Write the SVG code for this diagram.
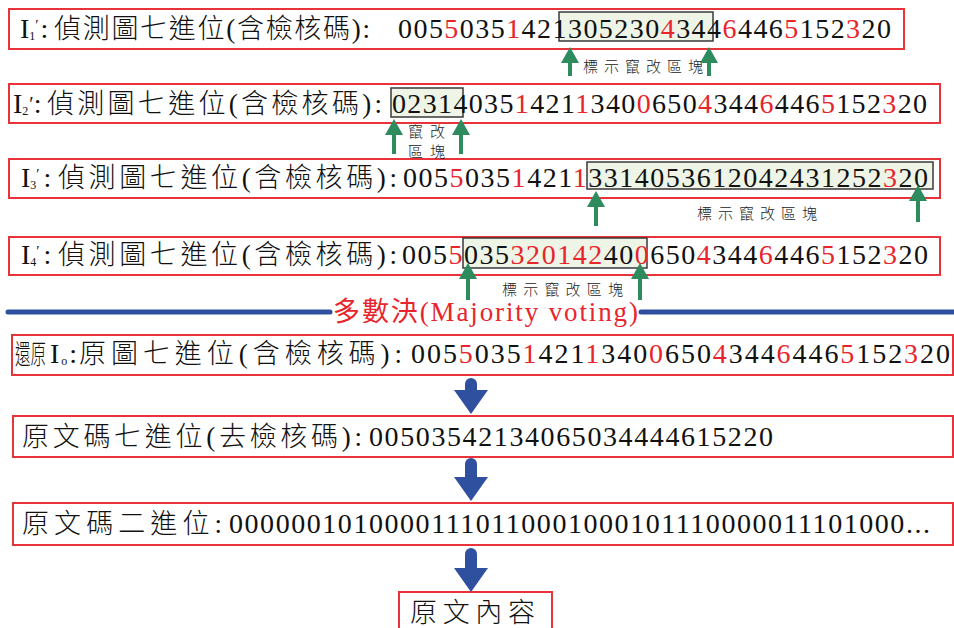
<svg xmlns="http://www.w3.org/2000/svg" xmlns:xlink="http://www.w3.org/1999/xlink" width="954" height="628" viewBox="0 0 954 628">
<style>
.box{fill:#fff;stroke:#e8333a;stroke-width:2}
.hl{fill:#eef4e6;stroke:#3a3a3a;stroke-width:1.5}
.t{font-family:"Liberation Serif","Noto Sans CJK TC",serif;font-size:28px;fill:#111}
.cjk{font-family:"Liberation Serif","Noto Sans CJK TC",serif;font-size:27px;font-weight:300;fill:#111}
.r{fill:#e8242c}
.note{font-family:"Noto Sans CJK TC",sans-serif;font-size:15px;font-weight:300;fill:#222}
.gl{stroke:#2e8b5e;stroke-width:4}
.gh{fill:#2e8b5e}
.bl{stroke:#2f4f9f;stroke-width:12;stroke-linecap:round}
.bh{fill:#2f4f9f}
.div{stroke:#2f4f9f;stroke-width:5;stroke-linecap:round}
</style>
<defs>
<polygon id="ghead" points="0,0 -9,16 9,16"/>
<polygon id="bhead" points="0,0 -17,-24 17,-24"/>
</defs>

<g id="row1">
<rect class="box" x="9" y="9" width="895" height="40"/>
<rect class="hl" x="559" y="12" width="154" height="29"/>
<text class="t" x="20" y="38">I<tspan font-size="12" dy="2">1</tspan><tspan font-size="15" dy="-10">′</tspan><tspan dx="2" dy="8">:</tspan></text>
<text class="cjk" x="54" y="38" textLength="316">偵測圖七進位(含檢核碼):</text>
<text class="t" x="398" y="38" textLength="493">005<tspan class="r">5</tspan>035<tspan class="r">1</tspan>421305230<tspan class="r">4</tspan>344<tspan class="r">6</tspan>446<tspan class="r">5</tspan>152<tspan class="r">3</tspan>20</text>
</g>

<g id="row2">
<rect class="box" x="9" y="84" width="931" height="39"/>
<rect class="hl" x="391" y="88" width="72" height="29"/>
<text class="t" x="13" y="113">I<tspan font-size="12" dy="2">2</tspan><tspan font-size="20" dx="1" dy="-4">′</tspan><tspan dy="2">:</tspan></text>
<text class="cjk" x="47" y="113" textLength="335">偵測圖七進位(含檢核碼):</text>
<text class="t" x="392" y="113" textLength="535">02314035<tspan class="r">1</tspan>421<tspan class="r">1</tspan>340<tspan class="r">0</tspan>650<tspan class="r">4</tspan>344<tspan class="r">6</tspan>446<tspan class="r">5</tspan>152<tspan class="r">3</tspan>20</text>
</g>

<g id="row3">
<rect class="box" x="9" y="159" width="931" height="39"/>
<rect class="hl" x="587" y="162" width="346" height="27"/>
<text class="t" x="21" y="187">I<tspan font-size="12" dy="2">3</tspan><tspan font-size="15" dy="-10">′</tspan><tspan dx="4" dy="8">:</tspan></text>
<text class="cjk" x="58" y="187" textLength="339">偵測圖七進位(含檢核碼):</text>
<text class="t" x="403" y="187" textLength="525">005<tspan class="r">5</tspan>035<tspan class="r">1</tspan>421<tspan class="r">1</tspan>3314053612042431252<tspan class="r">3</tspan>20</text>
</g>

<g id="row4">
<rect class="box" x="9" y="237" width="931" height="38"/>
<rect class="hl" x="463" y="238" width="184" height="30"/>
<text class="t" x="21" y="264">I<tspan font-size="12" dy="2">4</tspan><tspan font-size="15" dy="-10">′</tspan><tspan dx="4" dy="8">:</tspan></text>
<text class="cjk" x="58" y="264" textLength="339">偵測圖七進位(含檢核碼):</text>
<text class="t" x="402" y="264" textLength="526">005<tspan class="r">5</tspan>035<tspan class="r">320142</tspan>40<tspan class="r">0</tspan>650<tspan class="r">4</tspan>344<tspan class="r">6</tspan>446<tspan class="r">5</tspan>152<tspan class="r">3</tspan>20</text>
</g>

<g id="notes">
<text class="note" x="583" y="72" textLength="120">標示竄改區塊</text>
<text class="note" x="408" y="137" textLength="37">竄改</text>
<text class="note" x="408" y="157" textLength="37">區塊</text>
<text class="note" x="697" y="219" textLength="120">標示竄改區塊</text>
<text class="note" x="502" y="295" textLength="121">標示竄改區塊</text>
</g>

<g id="majority">
<line class="div" x1="8" y1="312" x2="330" y2="312"/>
<line class="div" x1="641" y1="312" x2="956" y2="312"/>
<text class="cjk" x="333" y="321" textLength="305" style="fill:#e8242c;font-weight:400">多數決(Majority voting)</text>
</g>

<g id="restored">
<rect class="box" x="12" y="335" width="941" height="40"/>
<text class="cjk" x="15" y="364" textLength="31" lengthAdjust="spacingAndGlyphs" font-size="29">還原</text>
<text class="t" x="50" y="363">I<tspan font-size="12" dx="2" dy="2">o</tspan><tspan dx="2" dy="-2">:</tspan></text>
<text class="cjk" x="79" y="363" textLength="323">原圖七進位(含檢核碼):</text>
<text class="t" x="411" y="363" textLength="539">005<tspan class="r">5</tspan>035<tspan class="r">1</tspan>421<tspan class="r">1</tspan>340<tspan class="r">0</tspan>650<tspan class="r">4</tspan>344<tspan class="r">6</tspan>446<tspan class="r">5</tspan>152<tspan class="r">3</tspan>20</text>
</g>

<g id="base7">
<rect class="box" x="13" y="416" width="940" height="41"/>
<text class="cjk" x="22" y="446" textLength="340">原文碼七進位(去檢核碼):</text>
<text class="t" x="369" y="446" textLength="404">00503542134065034444615220</text>
</g>

<g id="base2">
<rect class="box" x="13" y="503" width="940" height="42"/>
<text class="cjk" x="22" y="533" textLength="200">原文碼二進位:</text>
<text class="t" x="229" y="533" textLength="701">00000010100001110110001000101110000011101000...</text>
</g>

<g id="content">
<rect class="box" x="399" y="592" width="153" height="46"/>
<text class="cjk" x="410" y="622" font-size="30" textLength="125">原文內容</text>
</g>

<g id="connectors">
<line class="gl" x1="570" y1="76" x2="570" y2="60"/><use xlink:href="#ghead" class="gh" x="570" y="47"/>
<line class="gl" x1="709" y1="76" x2="709" y2="60"/><use xlink:href="#ghead" class="gh" x="709" y="47"/>
<line class="gl" x1="394" y1="154" x2="394" y2="132"/><use xlink:href="#ghead" class="gh" x="394" y="119"/>
<line class="gl" x1="461" y1="154" x2="461" y2="132"/><use xlink:href="#ghead" class="gh" x="461" y="119"/>
<line class="gl" x1="596" y1="226" x2="596" y2="204"/><use xlink:href="#ghead" class="gh" x="596" y="191"/>
<line class="gl" x1="918" y1="222" x2="918" y2="198"/><use xlink:href="#ghead" class="gh" x="918" y="185"/>
<line class="gl" x1="468" y1="300" x2="468" y2="276"/><use xlink:href="#ghead" class="gh" x="468" y="263"/>
<line class="gl" x1="640" y1="300" x2="640" y2="276"/><use xlink:href="#ghead" class="gh" x="640" y="263"/>
<line class="bl" x1="471" y1="384" x2="471" y2="392"/><use xlink:href="#bhead" class="bh" x="471" y="414"/>
<line class="bl" x1="471" y1="464" x2="471" y2="479"/><use xlink:href="#bhead" class="bh" x="471" y="501"/>
<line class="bl" x1="471" y1="554" x2="471" y2="570"/><use xlink:href="#bhead" class="bh" x="471" y="592"/>
</g>
</svg>
